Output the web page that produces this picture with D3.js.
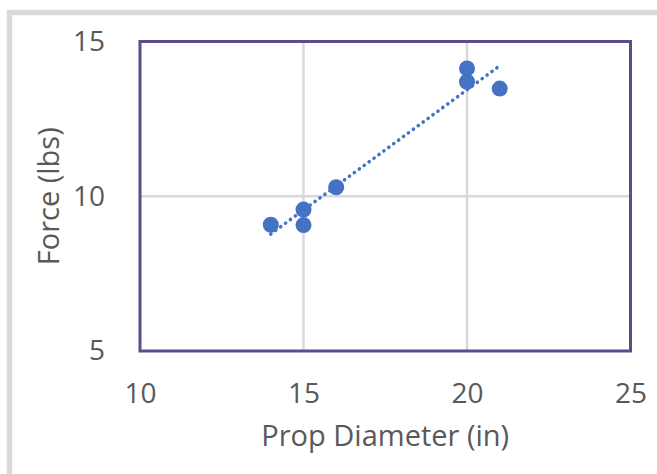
<!DOCTYPE html>
<html>
<head>
<meta charset="utf-8">
<script src="https://cdn.jsdelivr.net/npm/d3@7"></script>
<style>
  html, body { margin: 0; padding: 0; background: #fff; }
  svg { display: block; }
  text { font-family: "Open Sans", sans-serif; fill: #595959; }
</style>
</head>
<body>
<svg id="chart" width="657" height="474"></svg>
<script>
// prop diameter (in) vs measured force (lbs)
const propDiameter = [14, 15, 15, 16, 20, 20, 21]
const force = [9.08, 9.57, 9.07, 10.29, 14.13, 13.70, 13.48]
const xTicks = [10, 15, 20, 25]
const yTicks = [5, 10, 15]

const width = 657
const height = 474
const plot = { left: 140, right: 630.5, top: 41.5, bottom: 351 }

const svg = d3.select('#chart')

// outer chart frame (only top/left edges are visible in the crop)
svg.append('rect')
  .attr('x', 9.5)
  .attr('y', 12.5)
  .attr('width', width + 20)
  .attr('height', height + 20)
  .attr('fill', '#fff')
  .attr('stroke', '#d9d9d9')
  .attr('stroke-width', 5.5)

const x = d3.scaleLinear().domain([10, 25]).range([plot.left, plot.right])
const y = d3.scaleLinear().domain([5, 15]).range([plot.bottom, plot.top])

// gridlines
svg.append('g')
  .selectAll('line')
  .data(xTicks.slice(1, -1))
  .join('line')
  .attr('x1', d => x(d)).attr('x2', d => x(d))
  .attr('y1', plot.top).attr('y2', plot.bottom)
  .attr('stroke', '#d9d9d9')
  .attr('stroke-width', 2.5)

svg.append('g')
  .selectAll('line')
  .data(yTicks.slice(1, -1))
  .join('line')
  .attr('x1', plot.left).attr('x2', plot.right)
  .attr('y1', d => y(d)).attr('y2', d => y(d))
  .attr('stroke', '#d9d9d9')
  .attr('stroke-width', 2.5)

// axes, labels only
const xAxis = svg.append('g')
  .attr('transform', `translate(0,${plot.bottom})`)
  .call(d3.axisBottom(x).tickValues(xTicks).tickSize(0).tickPadding(32))
xAxis.select('.domain').remove()
xAxis.selectAll('text')
  .attr('fill', '#595959')
  .style('font-size', '28px')
  .style('font-family', '"Open Sans", sans-serif')

const yAxis = svg.append('g')
  .attr('transform', `translate(${plot.left},0)`)
  .call(d3.axisLeft(y).tickValues(yTicks).tickSize(0).tickPadding(35))
yAxis.select('.domain').remove()
yAxis.selectAll('text')
  .attr('fill', '#595959')
  .style('font-size', '28px')
  .style('font-family', '"Open Sans", sans-serif')

// plot area border
svg.append('rect')
  .attr('x', plot.left)
  .attr('y', plot.top)
  .attr('width', plot.right - plot.left)
  .attr('height', plot.bottom - plot.top)
  .attr('fill', 'none')
  .attr('stroke', '#5f4b8b')
  .attr('stroke-width', 3)

// linear trendline (least squares)
const pts = propDiameter.map((d, i) => ({ x: d, y: force[i] }))
const mx = d3.mean(pts, d => d.x)
const my = d3.mean(pts, d => d.y)
const slope = d3.sum(pts, d => (d.x - mx) * (d.y - my)) / d3.sum(pts, d => (d.x - mx) ** 2)
const intercept = my - slope * mx
const [xMin, xMax] = d3.extent(propDiameter)

svg.append('line')
  .attr('x1', x(xMin)).attr('y1', y(intercept + slope * xMin))
  .attr('x2', x(xMax)).attr('y2', y(intercept + slope * xMax))
  .attr('stroke', '#4472c4')
  .attr('stroke-width', 3.6)
  .attr('stroke-linecap', 'round')
  .attr('stroke-dasharray', '0.1 6')

// markers
svg.append('g')
  .selectAll('circle')
  .data(pts)
  .join('circle')
  .attr('cx', d => x(d.x))
  .attr('cy', d => y(d.y))
  .attr('r', 8)
  .attr('fill', '#4472c4')

// axis titles
svg.append('text')
  .attr('x', (plot.left + plot.right) / 2)
  .attr('y', 446)
  .attr('text-anchor', 'middle')
  .style('font-size', '29px')
  .text('Prop Diameter (in)')

svg.append('text')
  .attr('transform', `translate(59,${(plot.top + plot.bottom) / 2}) rotate(-90)`)
  .attr('text-anchor', 'middle')
  .style('font-size', '29px')
  .text('Force (lbs)')
</script>
</body>
</html>
